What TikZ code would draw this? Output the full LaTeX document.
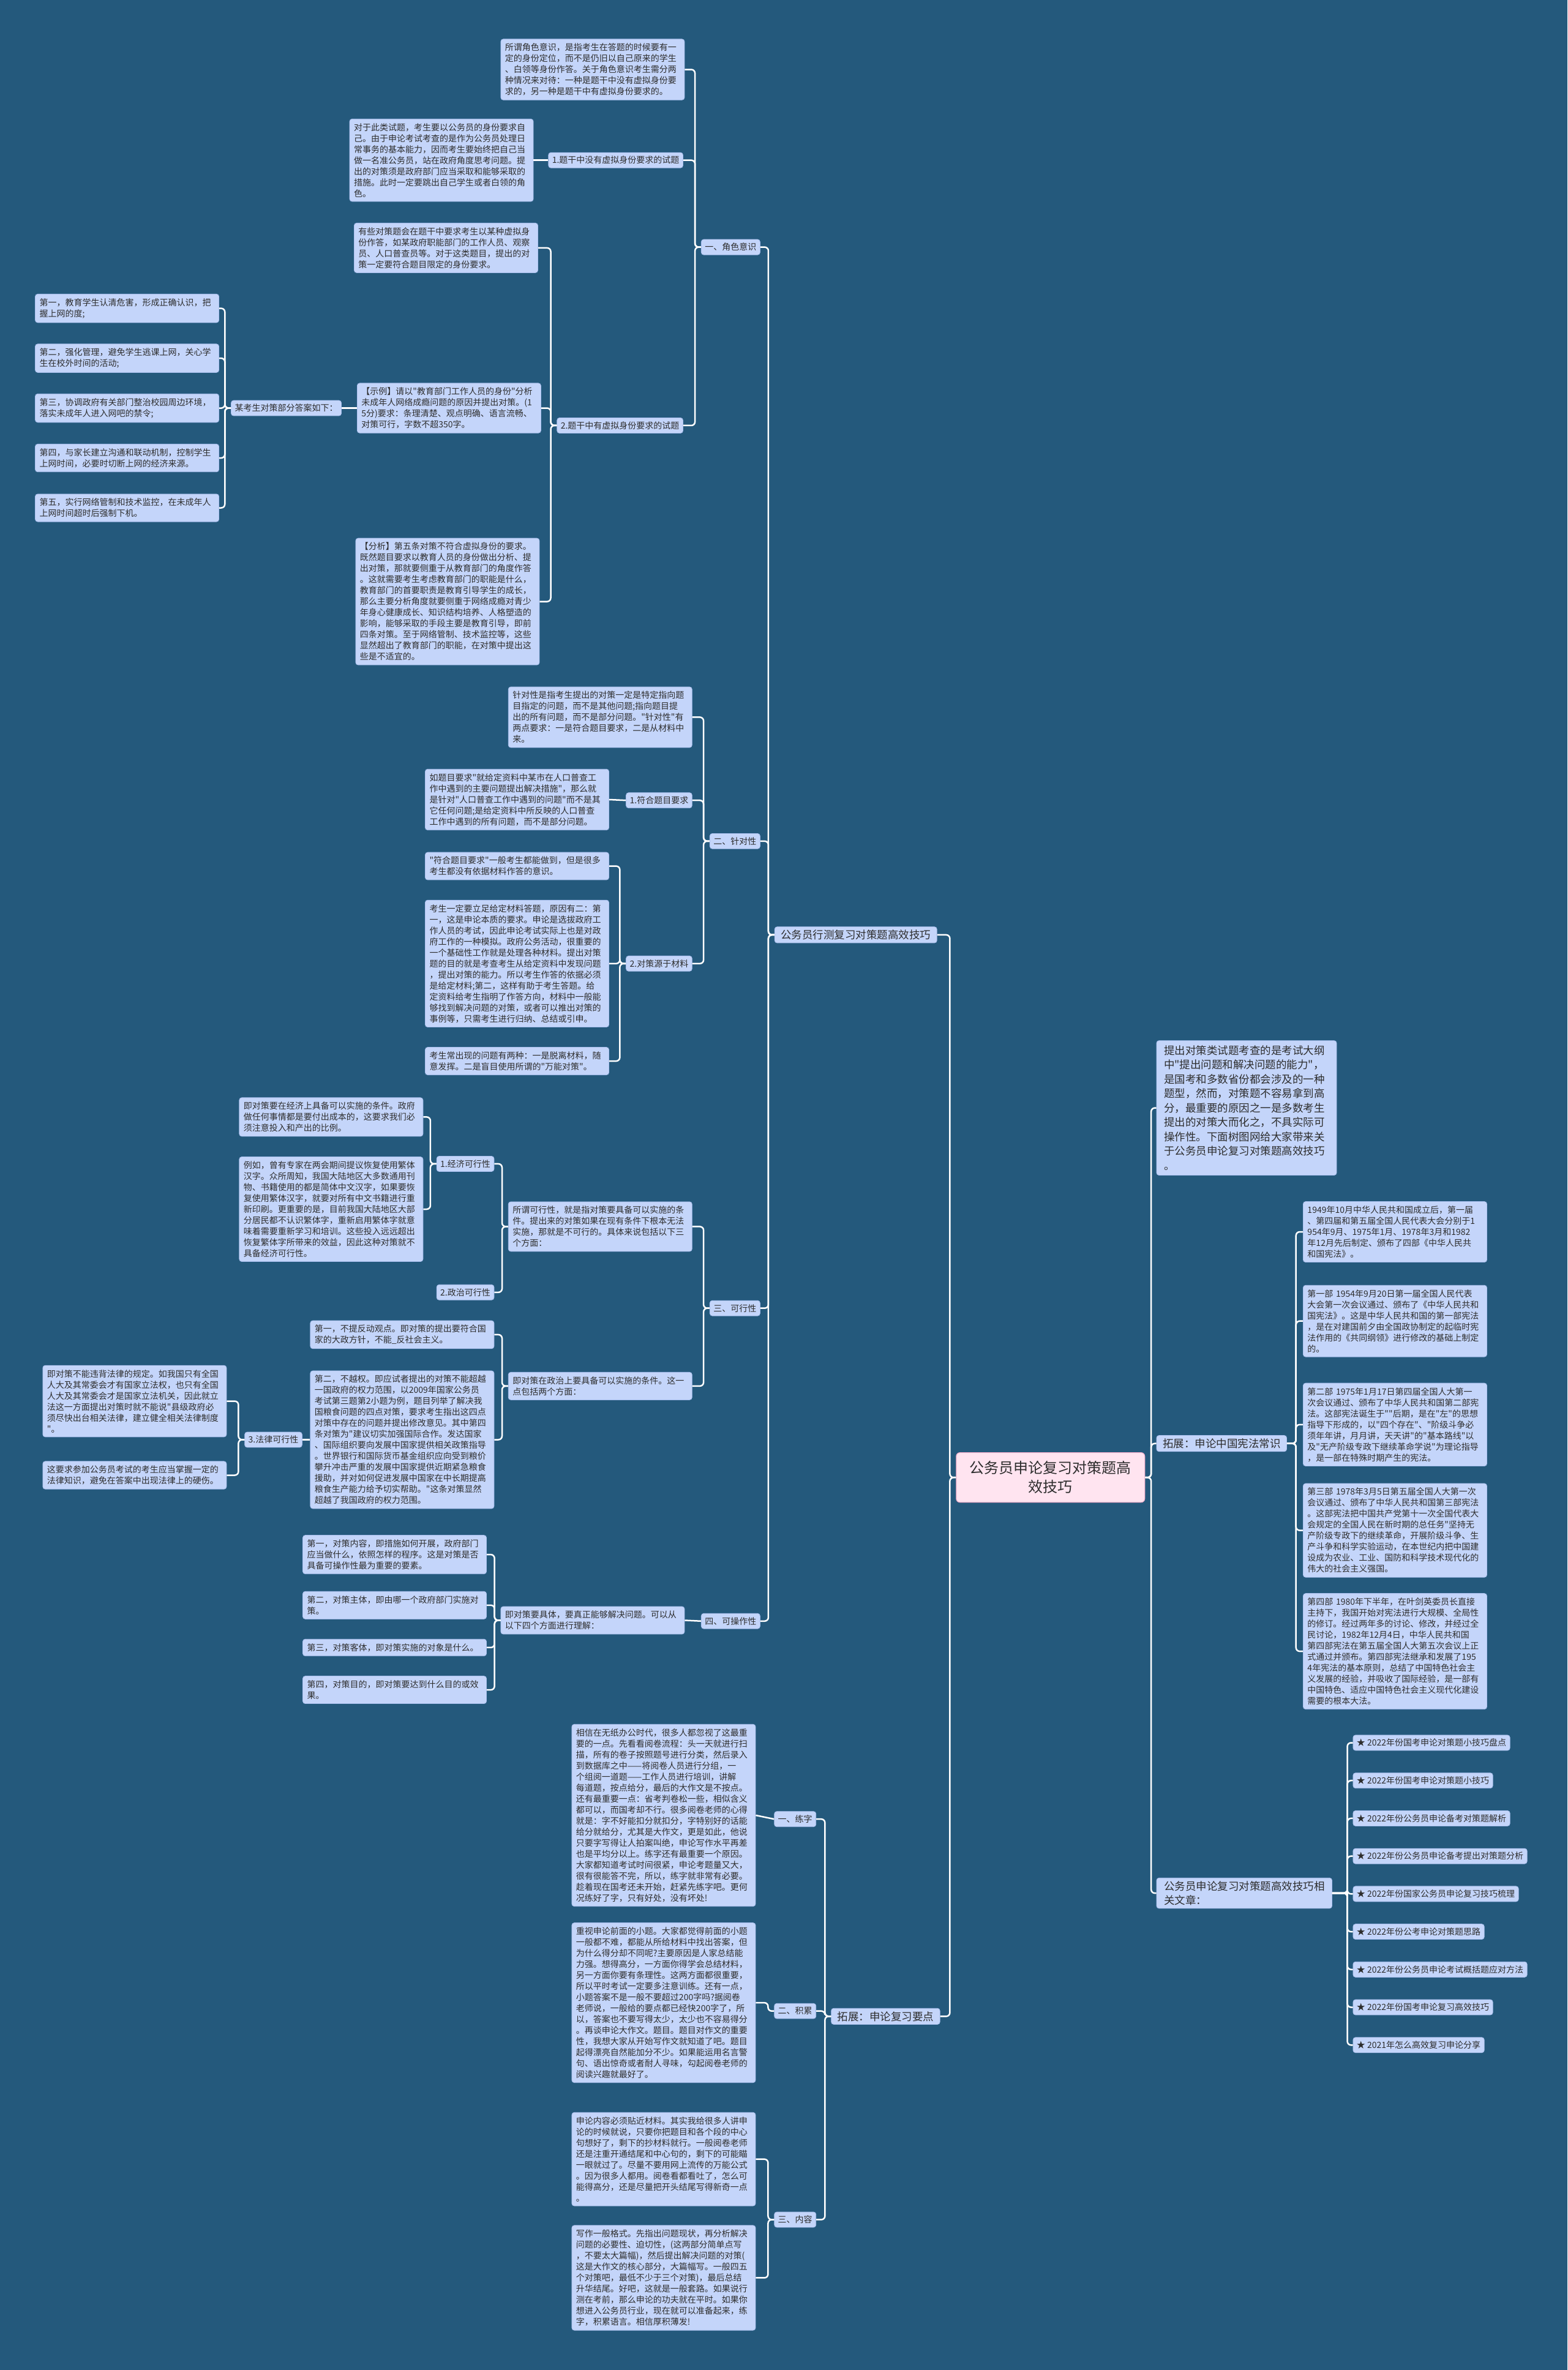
\documentclass[tikz,border=0pt]{standalone}
\usepackage{fontspec}
\setmainfont{Noto Sans CJK SC}[Ligatures=TeXOff]
\definecolor{bgblue}{RGB}{36,89,124}
\definecolor{boxblue}{RGB}{196,213,250}
\definecolor{boxline}{RGB}{170,192,238}
\definecolor{inkgray}{RGB}{45,45,45}
\definecolor{rootpink}{RGB}{255,228,240}
\definecolor{rootline}{RGB}{240,170,200}

\begin{document}
\begin{tikzpicture}[x=2.4687pt, y=-2.4687pt,
    txtbox/.style={rectangle, rounded corners=4pt, fill=boxblue, draw=boxline, line width=0.8pt,
      text=inkgray, font=\fontsize{14}{18}\selectfont, inner xsep=7pt, inner ysep=7pt,
      text width=286pt, align=left},
    tagbox/.style={rectangle, rounded corners=4pt, fill=boxblue, draw=boxline, line width=0.8pt,
      text=inkgray, font=\fontsize{14}{17}\selectfont, inner xsep=6pt, inner ysep=6pt},
    topicbox/.style={tagbox, font=\fontsize{17.5}{23.5}\selectfont, inner xsep=10pt, inner ysep=5pt, align=left},
    rootbox/.style={rectangle, rounded corners=6pt, fill=rootpink, draw=rootline, line width=1pt,
      text=inkgray, font=\fontsize{24}{31}\selectfont, inner xsep=22pt, inner ysep=14pt, align=center},
    link/.style={draw=white, line width=2.5pt, rounded corners=6pt}]

% 背景
\fill[bgblue] (0,0) rectangle (1037,1568);

% 中心主题
\node[rootbox] (root) at (695,977.5) {公务员申论复习对策题高\\效技巧};

% 一级分支
\node[topicbox, anchor=east] (xingce) at (620,618.5) {公务员行测复习对策题高效技巧};
\node[topicbox, anchor=east] (yaodian) at (622,1334) {拓展：申论复习要点};
\node[topicbox, anchor=west, text width=270pt, inner xsep=12pt, inner ysep=8pt] (intro) at (765,733)
  {提出对策类试题考查的是考试大纲\\中"提出问题和解决问题的能力"，\\是国考和多数省份都会涉及的一种\\题型，然而，对策题不容易拿到高\\分，最重要的原因之一是多数考生\\提出的对策大而化之，不具实际可\\操作性。下面树图网给大家带来关\\于公务员申论复习对策题高效技巧\\。};
\node[topicbox, anchor=west] (xianfa) at (765,955) {拓展：申论中国宪法常识};
\node[topicbox, anchor=west, inner xsep=12pt] (related) at (765,1252.5) {公务员申论复习对策题高效技巧相\\关文章：};

% 一、角色意识
\node[tagbox, anchor=east] (role) at (503,163.5) {一、角色意识};
\node[txtbox, anchor=east] (roleDef) at (453,46) {所谓角色意识，是指考生在答题的时候要有一\\定的身份定位，而不是仍旧以自己原来的学生\\、白领等身份作答。关于角色意识考生需分两\\种情况来对待：一种是题干中没有虚拟身份要\\求的，另一种是题干中有虚拟身份要求的。};
\node[tagbox, anchor=east] (roleNo) at (452,106) {1.题干中没有虚拟身份要求的试题};
\node[txtbox, anchor=east] (roleNoA) at (353,106) {对于此类试题，考生要以公务员的身份要求自\\己。由于申论考试考查的是作为公务员处理日\\常事务的基本能力，因而考生要始终把自己当\\做一名准公务员，站在政府角度思考问题。提\\出的对策须是政府部门应当采取和能够采取的\\措施。此时一定要跳出自己学生或者白领的角\\色。};
\node[tagbox, anchor=east] (roleYes) at (452,281.5) {2.题干中有虚拟身份要求的试题};
\node[txtbox, anchor=east] (roleYesA) at (356,164) {有些对策题会在题干中要求考生以某种虚拟身\\份作答，如某政府职能部门的工作人员、观察\\员、人口普查员等。对于这类题目，提出的对\\策一定要符合题目限定的身份要求。};
\node[txtbox, anchor=east] (example) at (358,270) {【示例】请以"教育部门工作人员的身份"分析\\未成年人网络成瘾问题的原因并提出对策。(1\\5分)要求：条理清楚、观点明确、语言流畅、\\对策可行，字数不超350字。};
\node[txtbox, anchor=east] (analysis) at (357,398) {【分析】第五条对策不符合虚拟身份的要求。\\既然题目要求以教育人员的身份做出分析、提\\出对策，那就要侧重于从教育部门的角度作答\\。这就需要考生考虑教育部门的职能是什么，\\教育部门的首要职责是教育引导学生的成长，\\那么主要分析角度就要侧重于网络成瘾对青少\\年身心健康成长、知识结构培养、人格塑造的\\影响，能够采取的手段主要是教育引导，即前\\四条对策。至于网络管制、技术监控等，这些\\显然超出了教育部门的职能，在对策中提出这\\些是不适宜的。};
\node[tagbox, anchor=east] (answer) at (226,270) {某考生对策部分答案如下：};
\node[txtbox, anchor=east] (ansA) at (145,204) {第一，教育学生认清危害，形成正确认识，把\\握上网的度;};
\node[txtbox, anchor=east] (ansB) at (145,237) {第二，强化管理，避免学生逃课上网，关心学\\生在校外时间的活动;};
\node[txtbox, anchor=east] (ansC) at (145,270) {第三，协调政府有关部门整治校园周边环境，\\落实未成年人进入网吧的禁令;};
\node[txtbox, anchor=east] (ansD) at (145,303) {第四，与家长建立沟通和联动机制，控制学生\\上网时间，必要时切断上网的经济来源。};
\node[txtbox, anchor=east] (ansE) at (145,336) {第五，实行网络管制和技术监控，在未成年人\\上网时间超时后强制下机。};

% 二、针对性
\node[tagbox, anchor=east] (target) at (503,556.5) {二、针对性};
\node[txtbox, anchor=east] (targetDef) at (458,474.5) {针对性是指考生提出的对策一定是特定指向题\\目指定的问题，而不是其他问题;指向题目提\\出的所有问题，而不是部分问题。"针对性"有\\两点要求：一是符合题目要求，二是从材料中\\来。};
\node[tagbox, anchor=east] (fitQ) at (458,529.5) {1.符合题目要求};
\node[txtbox, anchor=east] (fitQA) at (403,529) {如题目要求"就给定资料中某市在人口普查工\\作中遇到的主要问题提出解决措施"，那么就\\是针对"人口普查工作中遇到的问题"而不是其\\它任何问题;是给定资料中所反映的人口普查\\工作中遇到的所有问题，而不是部分问题。};
\node[tagbox, anchor=east] (fromMat) at (458,637.5) {2.对策源于材料};
\node[txtbox, anchor=east] (fromMatA) at (403,573) {"符合题目要求"一般考生都能做到，但是很多\\考生都没有依据材料作答的意识。};
\node[txtbox, anchor=east] (fromMatB) at (403,637.5) {考生一定要立足给定材料答题，原因有二：第\\一，这是申论本质的要求。申论是选拔政府工\\作人员的考试，因此申论考试实际上也是对政\\府工作的一种模拟。政府公务活动，很重要的\\一个基础性工作就是处理各种材料。提出对策\\题的目的就是考查考生从给定资料中发现问题\\，提出对策的能力。所以考生作答的依据必须\\是给定材料;第二，这样有助于考生答题。给\\定资料给考生指明了作答方向，材料中一般能\\够找到解决问题的对策，或者可以推出对策的\\事例等，只需考生进行归纳、总结或引申。};
\node[txtbox, anchor=east] (fromMatC) at (403,702) {考生常出现的问题有两种：一是脱离材料，随\\意发挥。二是盲目使用所谓的"万能对策"。};

% 三、可行性
\node[tagbox, anchor=east] (feas) at (503,865.5) {三、可行性};
\node[txtbox, anchor=east] (feasDef) at (458,811.5) {所谓可行性，就是指对策要具备可以实施的条\\件。提出来的对策如果在现有条件下根本无法\\实施，那就是不可行的。具体来说包括以下三\\个方面：};
\node[tagbox, anchor=east] (econ) at (327,770) {1.经济可行性};
\node[tagbox, anchor=east] (poli) at (327,855) {2.政治可行性};
\node[txtbox, anchor=east] (econA) at (280,739) {即对策要在经济上具备可以实施的条件。政府\\做任何事情都是要付出成本的，这要求我们必\\须注意投入和产出的比例。};
\node[txtbox, anchor=east] (econB) at (280,800) {例如，曾有专家在两会期间提议恢复使用繁体\\汉字。众所周知，我国大陆地区大多数通用刊\\物、书籍使用的都是简体中文汉字，如果要恢\\复使用繁体汉字，就要对所有中文书籍进行重\\新印刷。更重要的是，目前我国大陆地区大部\\分居民都不认识繁体字，重新启用繁体字就意\\味着需要重新学习和培训。这些投入远远超出\\恢复繁体字所带来的效益，因此这种对策就不\\具备经济可行性。};
\node[txtbox, anchor=east] (poliDef) at (458,917) {即对策在政治上要具备可以实施的条件。这一\\点包括两个方面：};
\node[txtbox, anchor=east] (poliA) at (327,883) {第一，不提反动观点。即对策的提出要符合国\\家的大政方针，不能\_反社会主义。};
\node[txtbox, anchor=east] (poliB) at (327,952.5) {第二，不越权。即应试者提出的对策不能超越\\一国政府的权力范围，以2009年国家公务员\\考试第三题第2小题为例，题目列举了解决我\\国粮食问题的四点对策，要求考生指出这四点\\对策中存在的问题并提出修改意见。其中第四\\条对策为"建议切实加强国际合作。发达国家\\、国际组织要向发展中国家提供相关政策指导\\。世界银行和国际货币基金组织应向受到粮价\\攀升冲击严重的发展中国家提供近期紧急粮食\\援助，并对如何促进发展中国家在中长期提高\\粮食生产能力给予切实帮助。"这条对策显然\\超越了我国政府的权力范围。};
\node[tagbox, anchor=east] (legal) at (200,952.5) {3.法律可行性};
\node[txtbox, anchor=east] (legalA) at (150,927) {即对策不能违背法律的规定。如我国只有全国\\人大及其常委会才有国家立法权，也只有全国\\人大及其常委会才是国家立法机关，因此就立\\法这一方面提出对策时就不能说"县级政府必\\须尽快出台相关法律，建立健全相关法律制度\\"。};
\node[txtbox, anchor=east] (legalB) at (150,976) {这要求参加公务员考试的考生应当掌握一定的\\法律知识，避免在答案中出现法律上的硬伤。};

% 四、可操作性
\node[tagbox, anchor=east] (oper) at (503,1072.5) {四、可操作性};
\node[txtbox, anchor=east] (operDef) at (453,1072) {即对策要具体，要真正能够解决问题。可以从\\以下四个方面进行理解：};
\node[txtbox, anchor=east] (operA) at (322,1028.5) {第一，对策内容，即措施如何开展，政府部门\\应当做什么，依照怎样的程序。这是对策是否\\具备可操作性最为重要的要素。};
\node[txtbox, anchor=east] (operB) at (322,1062) {第二，对策主体，即由哪一个政府部门实施对\\策。};
\node[txtbox, anchor=east] (operC) at (322,1090) {第三，对策客体，即对策实施的对象是什么。};
\node[txtbox, anchor=east] (operD) at (322,1118) {第四，对策目的，即对策要达到什么目的或效\\果。};

% 拓展：申论复习要点
\node[tagbox, anchor=east] (write) at (540,1203.5) {一、练字};
\node[txtbox, anchor=east] (writeA) at (500,1201) {相信在无纸办公时代，很多人都忽视了这最重\\要的一点。先看看阅卷流程：头一天就进行扫\\描，所有的卷子按照题号进行分类，然后录入\\到数据库之中——将阅卷人员进行分组，一\\个组阅一道题——工作人员进行培训，讲解\\每道题，按点给分，最后的大作文是不按点。\\还有最重要一点：省考判卷松一些，相似含义\\都可以，而国考却不行。很多阅卷老师的心得\\就是：字不好能扣分就扣分，字特别好的话能\\给分就给分，尤其是大作文，更是如此，他说\\只要字写得让人拍案叫绝，申论写作水平再差\\也是平均分以上。练字还有最重要一个原因。\\大家都知道考试时间很紧，申论考题量又大，\\很有很能答不完，所以，练字就非常有必要。\\趁着现在国考还未开始，赶紧先练字吧。更何\\况练好了字，只有好处，没有坏处!};
\node[tagbox, anchor=east] (accum) at (540,1330.5) {二、积累};
\node[txtbox, anchor=east] (accumA) at (500,1325) {重视申论前面的小题。大家都觉得前面的小题\\一般都不难，都能从所给材料中找出答案，但\\为什么得分却不同呢?主要原因是人家总结能\\力强。想得高分，一方面你得学会总结材料，\\另一方面你要有条理性。这两方面都很重要，\\所以平时考试一定要多注意训练。还有一点，\\小题答案不是一般不要超过200字吗?据阅卷\\老师说，一般给的要点都已经快200字了，所\\以，答案也不要写得太少，太少也不容易得分\\。再谈申论大作文。题目。题目对作文的重要\\性，我想大家从开始写作文就知道了吧。题目\\起得漂亮自然能加分不少。如果能运用名言警\\句、语出惊奇或者耐人寻味，勾起阅卷老师的\\阅读兴趣就最好了。};
\node[tagbox, anchor=east] (content) at (540,1468.5) {三、内容};
\node[txtbox, anchor=east] (contentA) at (500,1428.5) {申论内容必须贴近材料。其实我给很多人讲申\\论的时候就说，只要你把题目和各个段的中心\\句想好了，剩下的抄材料就行。一般阅卷老师\\还是注重开通结尾和中心句的，剩下的可能瞄\\一眼就过了。尽量不要用网上流传的万能公式\\。因为很多人都用。阅卷看都看吐了，怎么可\\能得高分，还是尽量把开头结尾写得新奇一点\\。};
\node[txtbox, anchor=east] (contentB) at (500,1507) {写作一般格式。先指出问题现状，再分析解决\\问题的必要性、迫切性，(这两部分简单点写\\，不要太大篇幅)，然后提出解决问题的对策(\\这是大作文的核心部分，大篇幅写。一般四五\\个对策吧，最低不少于三个对策)，最后总结\\升华结尾。好吧，这就是一般套路。如果说行\\测在考前，那么申论的功夫就在平时。如果你\\想进入公务员行业，现在就可以准备起来，练\\字，积累语言。相信厚积薄发!};

% 拓展：申论中国宪法常识
\node[txtbox, anchor=west] (xfA) at (862,815) {1949年10月中华人民共和国成立后，第一届\\、第四届和第五届全国人民代表大会分别于1\\954年9月、1975年1月、1978年3月和1982\\年12月先后制定、颁布了四部《中华人民共\\和国宪法》。};
\node[txtbox, anchor=west] (xfB) at (862,874) {第一部 1954年9月20日第一届全国人民代表\\大会第一次会议通过、颁布了《中华人民共和\\国宪法》。这是中华人民共和国的第一部宪法\\，是在对建国前夕由全国政协制定的起临时宪\\法作用的《共同纲领》进行修改的基础上制定\\的。};
\node[txtbox, anchor=west] (xfC) at (862,942.5) {第二部 1975年1月17日第四届全国人大第一\\次会议通过、颁布了中华人民共和国第二部宪\\法。这部宪法诞生于""后期，是在"左"的思想\\指导下形成的，以"四个存在"、"阶级斗争必\\须年年讲，月月讲，天天讲"的"基本路线"以\\及"无产阶级专政下继续革命学说"为理论指导\\，是一部在特殊时期产生的宪法。};
\node[txtbox, anchor=west] (xfD) at (862,1012.5) {第三部 1978年3月5日第五届全国人大第一次\\会议通过、颁布了中华人民共和国第三部宪法\\。这部宪法把中国共产党第十一次全国代表大\\会规定的全国人民在新时期的总任务"坚持无\\产阶级专政下的继续革命，开展阶级斗争、生\\产斗争和科学实验运动，在本世纪内把中国建\\设成为农业、工业、国防和科学技术现代化的\\伟大的社会主义强国。};
\node[txtbox, anchor=west] (xfE) at (862,1092.5) {第四部 1980年下半年，在叶剑英委员长直接\\主持下，我国开始对宪法进行大规模、全局性\\的修订。经过两年多的讨论、修改，并经过全\\民讨论，1982年12月4日，中华人民共和国\\第四部宪法在第五届全国人大第五次会议上正\\式通过并颁布。第四部宪法继承和发展了195\\4年宪法的基本原则，总结了中国特色社会主\\义发展的经验，并吸收了国际经验，是一部有\\中国特色、适应中国特色社会主义现代化建设\\需要的根本大法。};

% 相关文章
\node[tagbox, anchor=west] (artA) at (895,1153) {★ 2022年份国考申论对策题小技巧盘点};
\node[tagbox, anchor=west] (artB) at (895,1178) {★ 2022年份国考申论对策题小技巧};
\node[tagbox, anchor=west] (artC) at (895,1203) {★ 2022年份公务员申论备考对策题解析};
\node[tagbox, anchor=west] (artD) at (895,1228) {★ 2022年份公务员申论备考提出对策题分析};
\node[tagbox, anchor=west] (artE) at (895,1253) {★ 2022年份国家公务员申论复习技巧梳理};
\node[tagbox, anchor=west] (artF) at (895,1278) {★ 2022年份公考申论对策题思路};
\node[tagbox, anchor=west] (artG) at (895,1303) {★ 2022年份公务员申论考试概括题应对方法};
\node[tagbox, anchor=west] (artH) at (895,1328) {★ 2022年份国考申论复习高效技巧};
\node[tagbox, anchor=west] (artI) at (895,1353) {★ 2021年怎么高效复习申论分享};

% 连线：左侧
\foreach \c in {xingce, yaodian} \draw[link] (root.west) -- ++(-4,0) |- (\c.east);
\foreach \c in {role, target, feas, oper} \draw[link] (xingce.west) -- ++(-4,0) |- (\c.east);
\foreach \c in {roleDef, roleNo, roleYes} \draw[link] (role.west) -- ++(-4,0) |- (\c.east);
\draw[link] (roleNo.west) -- (roleNoA.east);
\foreach \c in {roleYesA, example, analysis} \draw[link] (roleYes.west) -- ++(-4,0) |- (\c.east);
\draw[link] (example.west) -- (answer.east);
\foreach \c in {ansA, ansB, ansC, ansD, ansE} \draw[link] (answer.west) -- ++(-4,0) |- (\c.east);
\foreach \c in {targetDef, fitQ, fromMat} \draw[link] (target.west) -- ++(-4,0) |- (\c.east);
\draw[link] (fitQ.west) -- (fitQA.east);
\foreach \c in {fromMatA, fromMatB, fromMatC} \draw[link] (fromMat.west) -- ++(-4,0) |- (\c.east);
\foreach \c in {feasDef, poliDef} \draw[link] (feas.west) -- ++(-4,0) |- (\c.east);
\foreach \c in {econ, poli} \draw[link] (feasDef.west) -- ++(-4,0) |- (\c.east);
\foreach \c in {econA, econB} \draw[link] (econ.west) -- ++(-4,0) |- (\c.east);
\foreach \c in {poliA, poliB} \draw[link] (poliDef.west) -- ++(-4,0) |- (\c.east);
\draw[link] (poliB.west) -- (legal.east);
\foreach \c in {legalA, legalB} \draw[link] (legal.west) -- ++(-4,0) |- (\c.east);
\draw[link] (oper.west) -- (operDef.east);
\foreach \c in {operA, operB, operC, operD} \draw[link] (operDef.west) -- ++(-4,0) |- (\c.east);
\foreach \c in {write, accum, content} \draw[link] (yaodian.west) -- ++(-4,0) |- (\c.east);
\draw[link] (write.west) -- (writeA.east);
\draw[link] (accum.west) -- ++(-4,0) |- (accumA.east);
\foreach \c in {contentA, contentB} \draw[link] (content.west) -- ++(-4,0) |- (\c.east);

% 连线：右侧
\foreach \c in {intro, xianfa, related} \draw[link] (root.east) -- ++(4,0) |- (\c.west);
\foreach \c in {xfA, xfB, xfC, xfD, xfE} \draw[link] (xianfa.east) -- ++(6,0) |- (\c.west);
\foreach \c in {artA, artB, artC, artD, artE, artF, artG, artH, artI} \draw[link] (related.east) -- ++(10,0) |- (\c.west);
\end{tikzpicture}
\end{document}
